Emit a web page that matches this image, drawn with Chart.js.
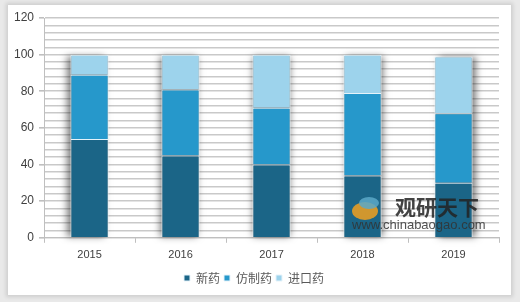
<!DOCTYPE html>
<html>
<head>
<meta charset="utf-8">
<script src="https://cdn.jsdelivr.net/npm/chart.js@4/dist/chart.umd.min.js"></script>
<style>
  html, body { margin: 0; padding: 0; background: #e9e9e9; }
  #panel {
    position: absolute; left: 8px; top: 5px; width: 503px; height: 290px;
    background: #fff; box-shadow: 0 0 4px 2px rgba(0,0,0,0.12);
  }
  #wrap { position: absolute; left: 0; top: 0; width: 520px; height: 302px; }
</style>
</head>
<body>
<div id="panel"></div>
<div id="wrap"><canvas id="chartBar" width="520" height="302"></canvas></div>
<script>
const anios = ["2015", "2016", "2017", "2018", "2019"];
const nuevos = [54, 45, 40, 34, 30];
const genericos = [35, 36, 31, 45, 38];
const importados = [11, 19, 29, 21, 31];
const etiquetas = ["新药", "仿制药", "进口药"];
const colores = ["#1b6587", "#2698cb", "#9dd3ec"];

// sombra detras de cada barra apilada
const sombraBarras = {
  id: "sombraBarras",
  beforeDatasetsDraw(chart) {
    const ctx = chart.ctx;
    const abajo = chart.getDatasetMeta(0).data;
    const arriba = chart.getDatasetMeta(2).data;
    ctx.save();
    abajo.forEach((b, i) => {
      const t = arriba[i];
      const w = b.width;
      ctx.shadowColor = "rgba(0,0,0,0.5)";
      ctx.shadowBlur = 7;
      ctx.shadowOffsetX = (i - 2) * 2;
      ctx.fillStyle = "#888";
      ctx.fillRect(b.x - w / 2 + 1, t.y + 1, w - 2, b.base - t.y - 1);
    });
    ctx.restore();
  }
};

// marca de agua
const marcaAgua = {
  id: "marcaAgua",
  afterDatasetsDraw(chart) {
    const ctx = chart.ctx;
    ctx.save();
    ctx.globalAlpha = 0.85;
    ctx.fillStyle = "#f0a020";
    ctx.beginPath();
    ctx.ellipse(365, 211, 13, 9, 0, 0, Math.PI * 2);
    ctx.fill();
    ctx.fillStyle = "#5aa8c8";
    ctx.beginPath();
    ctx.ellipse(369, 203, 10, 6, 0, 0, Math.PI * 2);
    ctx.fill();
    ctx.fillStyle = "#222";
    ctx.font = "bold 21px 'Noto Sans CJK SC'";
    ctx.textBaseline = "middle";
    ctx.fillText("观研天下", 395, 207);
    ctx.fillStyle = "#333";
    ctx.font = "13px 'Liberation Sans'";
    ctx.fillText("www.chinabaogao.com", 352, 225);
    ctx.restore();
  }
};

const ctx = document.getElementById("chartBar").getContext("2d");
const barChart = new Chart(ctx, {
  type: "bar",
  data: {
    labels: anios,
    datasets: [nuevos, genericos, importados].map((d, i) => ({
      label: etiquetas[i],
      data: d,
      backgroundColor: colores[i],
      borderColor: "#e6f3fa",
      borderWidth: 1,
      barPercentage: 0.42,
      categoryPercentage: 1
    }))
  },
  options: {
    responsive: false,
    animation: false,
    layout: { padding: { left: 9, right: 21, top: 18, bottom: 8 } },
    scales: {
      x: {
        stacked: true,
        border: { color: "#bfbfbf" },
        grid: { offset: true, drawOnChartArea: false, tickLength: 5, color: "#bfbfbf" },
        ticks: { color: "#404040", font: { size: 11, family: "Liberation Sans" }, padding: 6 }
      },
      y: {
        stacked: true,
        min: 0,
        max: 120,
        border: { color: "#bfbfbf" },
        grid: {
          color: "#c9c9c9",
          lineWidth: 1.6,
          tickLength: 5,
          tickColor: c => (c.tick && c.tick.value % 20 === 0 ? "#bfbfbf" : "rgba(0,0,0,0)")
        },
        ticks: {
          stepSize: 4,
          autoSkip: false,
          color: "#404040",
          font: { size: 12, family: "Liberation Sans" },
          padding: 5,
          callback: v => (v % 20 === 0 ? v : "")
        }
      }
    },
    plugins: {
      legend: {
        position: "bottom",
        labels: {
          boxWidth: 6, boxHeight: 6, padding: 4,
          color: "#595959",
          font: { size: 12, family: "Noto Sans CJK SC" }
        }
      },
      tooltip: { enabled: false }
    }
  },
  plugins: [sombraBarras, marcaAgua]
});
</script>
</body>
</html>
